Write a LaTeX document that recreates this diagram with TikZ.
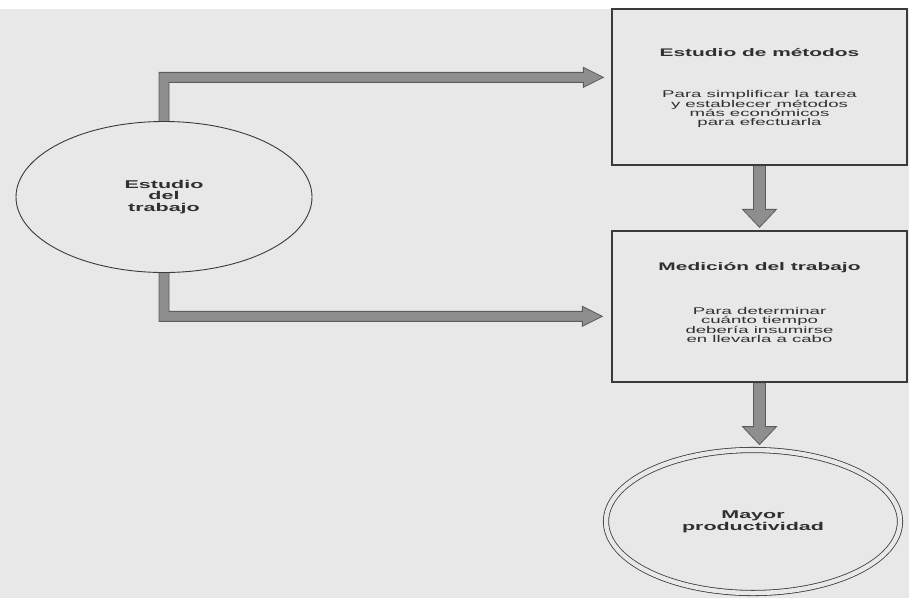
\documentclass[tikz,border=0pt]{standalone}
\usepackage{fontspec}
\usetikzlibrary{calc,shapes.geometric}
% wide sans faces for the labels
\newfontfamily\headfont[FakeStretch=1.9]{Liberation Sans Bold}
\newfontfamily\plainfont[FakeStretch=1.9]{Liberation Sans}

\definecolor{paper}{HTML}{E8E8E8}
\definecolor{inkline}{HTML}{3A3A3A}
\definecolor{inktext}{HTML}{303030}
\definecolor{arrowbody}{HTML}{8E8E8E}
\definecolor{arrowedge}{HTML}{5C5C5C}

\pgfdeclarelayer{back}
\pgfdeclarelayer{under}
\pgfsetlayers{back,under,main}

\tikzset{
  boxnode/.style={draw=inkline, line width=1.3pt, rectangle,
    minimum width=295pt, inner sep=0pt},
  ovalnode/.style={draw=inkline, line width=0.9pt, ellipse, fill=paper,
    inner sep=0pt, align=center, text=inktext,
    font=\headfont\fontsize{11.3}{11.8}\selectfont},
  dualoval/.style={ovalnode, double=paper, double distance=4.5pt, line width=0.8pt},
  headtext/.style={inner sep=0pt, text=inktext,
    font=\headfont\fontsize{11}{13}\selectfont},
  bodytext/.style={inner sep=0pt, align=center, text=inktext,
    font=\plainfont\fontsize{9.8}{9.3}\selectfont},
  fatarrow/.style={fill=arrowbody, draw=arrowedge, line width=0.8pt, line join=miter}
}

\begin{document}
\begin{tikzpicture}[x=1pt, y=-1pt]
  \useasboundingbox (0,0) rectangle (909,598);
  \begin{pgfonlayer}{back}
    \fill[white] (0,0) rectangle (909,598);
    \fill[paper] (0,9) rectangle (909,598);
  \end{pgfonlayer}

  % nodes
  \node[ovalnode, minimum width=296pt, minimum height=151pt] (e) at (164,197)
    {Estudio\\del\\trabajo};
  \node[boxnode, minimum height=156pt] (m) at (759.5,87) {};
  \node[boxnode, minimum height=151pt] (w) at (759.5,306.5) {};
  \node[dualoval, minimum width=294pt, minimum height=143pt] (p) at (753,521.5)
    {Mayor\\productividad};

  \node[headtext] (mt) at ($(m.north)+(0,44)$) {Estudio de métodos};
  \node[bodytext] (mb) at ($(m.north)+(0,101)$)
    {Para simplificar la tarea\\y establecer métodos\\más económicos\\para efectuarla};
  \node[headtext] (wt) at ($(w.north)+(0,37)$) {Medición del trabajo};
  \node[bodytext] (wb) at ($(w.north)+(0,94.5)$)
    {Para determinar\\cuánto tiempo\\debería insumirse\\en llevarla a cabo};

  % arrow tips
  \coordinate (t1) at ($(m.north west)+(-8,69)$);
  \coordinate (t2) at ($(w.north west)+(-9,86)$);
  \coordinate (t3) at ($(w.north)+(0,-3)$);
  \coordinate (t4) at ($(w.south |- p.north)+(0,-5)$);

  \begin{pgfonlayer}{under}
    % study of work -> method study
    \draw[fatarrow] ($(e.north)+(-5,10)$) -- ($(e.north |- t1)+(-5,-5)$)
      -- ($(t1)+(-20,-5)$) -- ($(t1)+(-20,-10)$) -- (t1)
      -- ($(t1)+(-20,10)$) -- ($(t1)+(-20,5)$)
      -- ($(e.north |- t1)+(5,5)$) -- ($(e.north)+(5,10)$) -- cycle;
    % study of work -> work measurement
    \draw[fatarrow] ($(e.south)+(-5,-10)$) -- ($(e.south |- t2)+(-5,5)$)
      -- ($(t2)+(-20,5)$) -- ($(t2)+(-20,10)$) -- (t2)
      -- ($(t2)+(-20,-10)$) -- ($(t2)+(-20,-5)$)
      -- ($(e.south |- t2)+(5,-5)$) -- ($(e.south)+(5,-10)$) -- cycle;
    % method study -> work measurement
    \draw[fatarrow] ($(m.south)+(-6,0)$) -- ($(t3)+(-6,-18)$)
      -- ($(t3)+(-17,-18)$) -- (t3) -- ($(t3)+(17,-18)$)
      -- ($(t3)+(6,-18)$) -- ($(m.south)+(6,0)$) -- cycle;
    % work measurement -> higher productivity
    \draw[fatarrow] ($(w.south)+(-6,0)$) -- ($(t4)+(-6,-18)$)
      -- ($(t4)+(-17,-18)$) -- (t4) -- ($(t4)+(17,-18)$)
      -- ($(t4)+(6,-18)$) -- ($(w.south)+(6,0)$) -- cycle;
  \end{pgfonlayer}
\end{tikzpicture}
\end{document}
